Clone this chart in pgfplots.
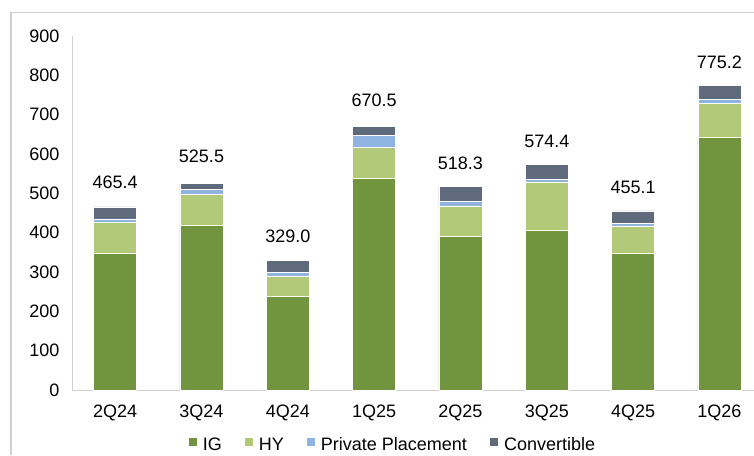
\documentclass[border=0pt]{standalone}
\usepackage{fontspec}
\setmainfont{Liberation Sans}
\usepackage{pgfplots}
\pgfplotsset{compat=1.18}

\definecolor{igc}{HTML}{71943F}
\definecolor{hyc}{HTML}{B1C979}
\definecolor{ppc}{HTML}{8FB4E2}
\definecolor{cvc}{HTML}{5F6B7D}
\definecolor{axc}{HTML}{D0D0D0}

\begin{document}
\begin{tikzpicture}[x=1pt,y=1pt]
\useasboundingbox (0,0) rectangle (754,455);
% outer frame
\draw[axc, line width=1.2pt] (11,0) -- (11,442.5) -- (754,442.5);

\begin{axis}[
    at={(72pt,65pt)}, anchor=south west,
    scale only axis,
    width=682pt, height=354pt,
    ybar stacked,
    bar width=43pt,
    xmin=-0.5, xmax=7.4,
    ymin=0, ymax=900,
    xtick={0,...,7},
    xticklabels={2Q24,3Q24,4Q24,1Q25,2Q25,3Q25,4Q25,1Q26},
    ytick={0,100,...,900},
    major tick length=0pt,
    axis lines=left,
    axis line style={-, axc, line width=1pt},
    tick label style={font=\fontsize{18}{21}\selectfont, black},
    /pgf/number format/assume math mode=true,
    yticklabel style={xshift=-9pt},
    xticklabel style={yshift=-11pt},
    legend style={at={(321pt,-55pt)}, anchor=center, draw=none, fill=none,
        font=\fontsize{18}{21}\selectfont, legend columns=4,
        /tikz/every odd column/.append style={column sep=4pt},
        /tikz/every even column/.append style={column sep=21pt}},
    legend image code/.code={\fill[#1, draw=none] (0pt,-1pt) rectangle (8pt,7pt);},
]
\addplot[fill=igc, draw=white, line width=0.8pt] coordinates {
    (0,348) (1,419) (2,238) (3,538) (4,390) (5,405) (6,347) (7,642)};
\addplot[fill=hyc, draw=white, line width=0.8pt] coordinates {
    (0,77) (1,78) (2,52) (3,78) (4,78) (5,124) (6,70) (7,87)};
\addplot[fill=ppc, draw=white, line width=0.8pt] coordinates {
    (0,10) (1,12) (2,8) (3,32) (4,12) (5,7) (6,7) (7,10)};
\addplot[fill=cvc, draw=white, line width=0.8pt,
    point meta=explicit,
    nodes near coords={\pgfmathprintnumber[fixed,fixed zerofill,precision=1]{\pgfplotspointmeta}},
    every node near coord/.append style={font=\fontsize{18}{21}\selectfont, black, anchor=base, yshift=24pt}]
    coordinates {
    (0,30.4) [465.4] (1,16.5) [525.5] (2,31.0) [329.0] (3,22.5) [670.5]
    (4,38.3) [518.3] (5,38.4) [574.4] (6,31.1) [455.1] (7,36.2) [775.2]};
\legend{IG, HY, Private Placement, Convertible}
\end{axis}
\end{tikzpicture}
\end{document}
